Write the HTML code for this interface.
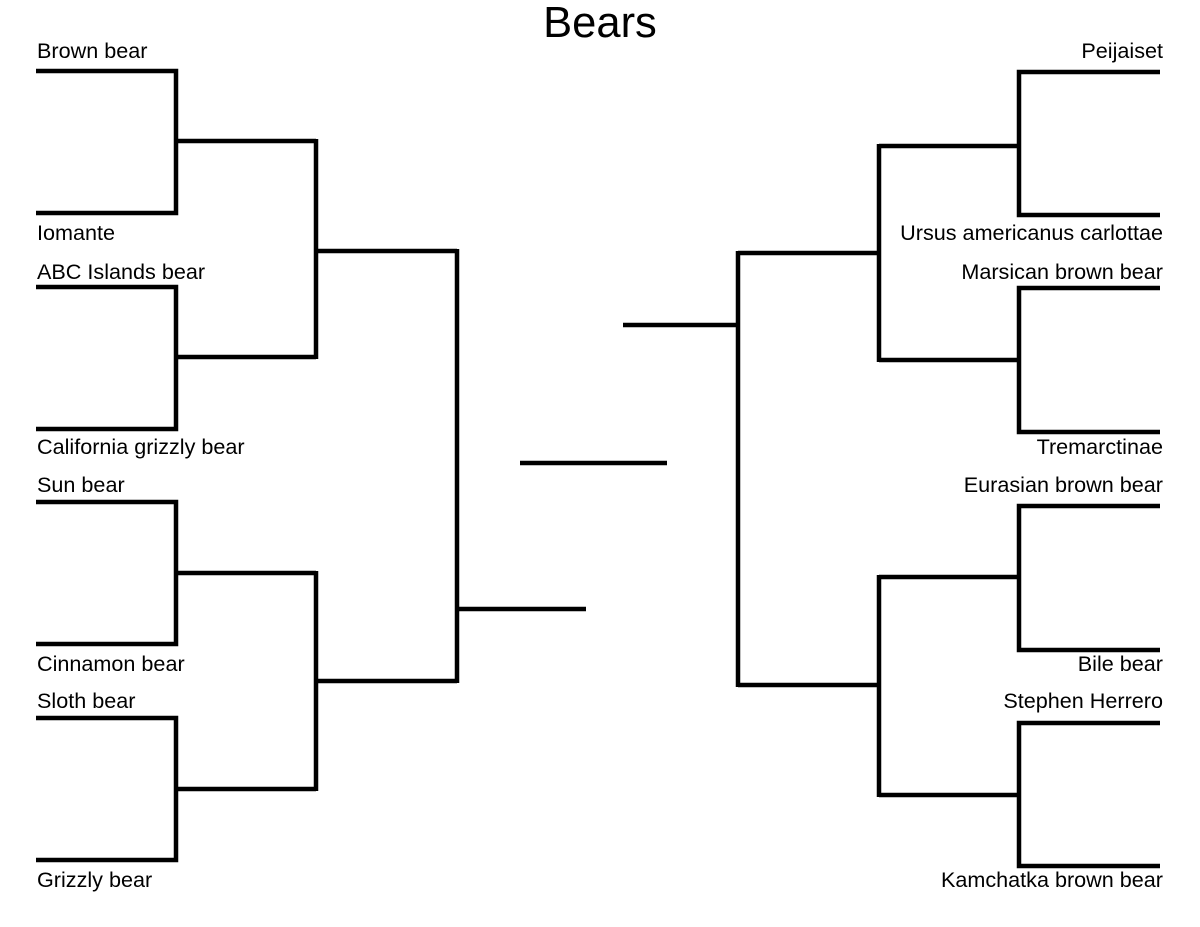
<!DOCTYPE html>
<html><head><style>body{margin:0;background:#fff}svg{display:block}text{font-family:"Liberation Sans",Arial,sans-serif;font-size:21.6px;fill:#000}</style></head>
<body>
<svg width="1200" height="927" viewBox="0 0 1200 927">
<rect width="1200" height="927" fill="#fff"/>
<text x="600" y="37" text-anchor="middle" style="font-size:43.5px">Bears</text>
<g fill="none" stroke="#000" stroke-width="4.5" stroke-linejoin="miter">
<polyline points="36,71 176,71 176,213 36,213"/>
<polyline points="36,287 176,287 176,429 36,429"/>
<polyline points="36,502 176,502 176,644 36,644"/>
<polyline points="36,718 176,718 176,860 36,860"/>
<line x1="176" y1="141" x2="316" y2="141"/>
<line x1="176" y1="357" x2="316" y2="357"/>
<line x1="176" y1="573" x2="316" y2="573"/>
<line x1="176" y1="789" x2="316" y2="789"/>
<line x1="316" y1="139" x2="316" y2="359"/>
<line x1="316" y1="571" x2="316" y2="791"/>
<line x1="316" y1="251" x2="457" y2="251"/>
<line x1="316" y1="681" x2="457" y2="681"/>
<line x1="457" y1="249" x2="457" y2="683"/>
<line x1="457" y1="609" x2="586" y2="609"/>
<line x1="520" y1="463" x2="667" y2="463"/>
<line x1="623" y1="325" x2="738" y2="325"/>
<line x1="738" y1="251" x2="738" y2="687"/>
<line x1="738" y1="253" x2="879" y2="253"/>
<line x1="738" y1="685" x2="879" y2="685"/>
<line x1="879" y1="144" x2="879" y2="362"/>
<line x1="879" y1="575" x2="879" y2="797"/>
<line x1="879" y1="146" x2="1019" y2="146"/>
<line x1="879" y1="360" x2="1019" y2="360"/>
<line x1="879" y1="577" x2="1019" y2="577"/>
<line x1="879" y1="795" x2="1019" y2="795"/>
<polyline points="1160,72 1019,72 1019,215 1160,215"/>
<polyline points="1160,288 1019,288 1019,432 1160,432"/>
<polyline points="1160,506 1019,506 1019,650 1160,650"/>
<polyline points="1160,723 1019,723 1019,866 1160,866"/>
</g>
<g>
<text x="37" y="58">Brown bear</text>
<text x="37" y="240">Iomante</text>
<text x="37" y="279">ABC Islands bear</text>
<text x="37" y="454">California grizzly bear</text>
<text x="37" y="492">Sun bear</text>
<text x="37" y="671">Cinnamon bear</text>
<text x="37" y="708">Sloth bear</text>
<text x="37" y="887">Grizzly bear</text>
</g>
<g text-anchor="end">
<text x="1163" y="58">Peijaiset</text>
<text x="1163" y="240">Ursus americanus carlottae</text>
<text x="1163" y="279">Marsican brown bear</text>
<text x="1163" y="454">Tremarctinae</text>
<text x="1163" y="492">Eurasian brown bear</text>
<text x="1163" y="671">Bile bear</text>
<text x="1163" y="708">Stephen Herrero</text>
<text x="1163" y="887">Kamchatka brown bear</text>
</g>
</svg>
</body></html>
